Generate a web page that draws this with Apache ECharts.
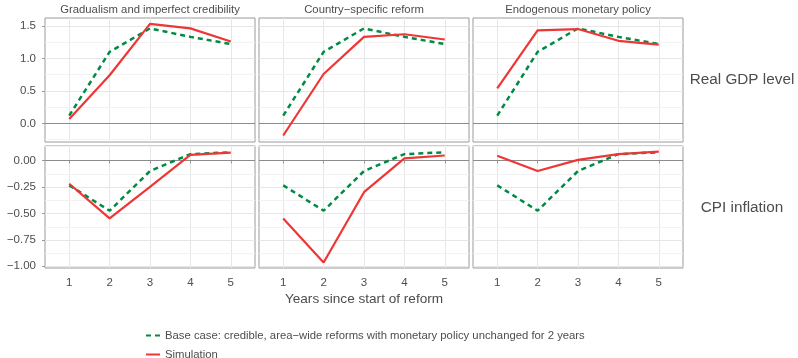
<!DOCTYPE html>
<html>
<head>
<meta charset="utf-8">
<script src="https://cdn.jsdelivr.net/npm/echarts@6/dist/echarts.min.js"></script>
<style>
html,body{margin:0;padding:0;background:#fff;}
#chart{width:798px;height:358px;}
</style>
</head>
<body>
<div id="chart"></div>
<script>
// ---- data ----
const years = [1, 2, 3, 4, 5];
const panelTitles = ["Gradualism and imperfect credibility", "Country\u2212specific reform", "Endogenous monetary policy"];
const rowTitles = ["Real GDP level", "CPI inflation"];
const baseName = "Base case: credible, area\u2212wide reforms with monetary policy unchanged for 2 years";
const simName = "Simulation";

const gdpBase = [0.12, 1.10, 1.46, 1.33, 1.22];
const gdpSimGradualism = [0.07, 0.74, 1.53, 1.46, 1.26];
const gdpSimCountry = [-0.185, 0.76, 1.33, 1.37, 1.29];
const gdpSimEndogenous = [0.54, 1.43, 1.45, 1.27, 1.21];

const cpiBase = [-0.235, -0.475, -0.10, 0.06, 0.078];
const cpiSimGradualism = [-0.22, -0.548, -0.25, 0.053, 0.075];
const cpiSimCountry = [-0.548, -0.965, -0.30, 0.02, 0.047];
const cpiSimEndogenous = [0.044, -0.10, 0.006, 0.06, 0.084];

const gdpTicks = [0, 0.5, 1.0, 1.5];
const gdpMinor = [-0.25, 0.25, 0.75, 1.25];
const cpiTicks = [-1.0, -0.75, -0.5, -0.25, 0];
const cpiMinor = [-0.875, -0.625, -0.375, -0.125, 0.125];

// ---- layout ----
const FONT = "Liberation Sans, Arial, Helvetica, sans-serif";
const colLeft = [45, 259, 473];
const colWidth = 210;
const rowTop = [18, 146];
const rowHeight = [124, 122];
const yRange = [[-0.285, 1.62], [-1.017, 0.137]];
const green = "#008B45";
const red = "#EE3636";

const simRows = [[gdpSimGradualism, gdpSimCountry, gdpSimEndogenous], [cpiSimGradualism, cpiSimCountry, cpiSimEndogenous]];
const baseRows = [gdpBase, cpiBase];
const tickRows = [gdpTicks, cpiTicks];
const minorRows = [gdpMinor, cpiMinor];

const toPts = arr => years.map((y, i) => [y, arr[i]]);
const fmtNum = (v, d) => {
  const s = Math.abs(v).toFixed(d);
  return (v < -1e-9 ? "\u2212" : "") + s;
};

const grids = [], xAxes = [], yAxes = [], series = [], graphics = [];
let idx = 0;
for (let r = 0; r < 2; r++) {
  for (let c = 0; c < 3; c++) {
    grids.push({
      left: colLeft[c], top: rowTop[r], width: colWidth, height: rowHeight[r],
      show: true, borderColor: "#9a9a9a", borderWidth: 1, backgroundColor: "transparent"
    });
    xAxes.push({
      type: "value", gridIndex: idx, min: 0.4, max: 5.6,
      axisLine: { show: false },
      axisTick: { show: r === 1, customValues: years, length: 3, lineStyle: { color: "#9a9a9a" } },
      axisLabel: { show: r === 1, customValues: years, color: "#4d4d4d", fontSize: 11.5, fontFamily: FONT, margin: 9 },
      splitLine: { show: true, lineStyle: { color: "#e6e6e6", width: 1 } }
    });
    const d = r === 0 ? 1 : 2;
    yAxes.push({
      type: "value", gridIndex: idx, min: yRange[r][0], max: yRange[r][1],
      axisLine: { show: false },
      axisTick: { show: c === 0, customValues: tickRows[r], length: 3, lineStyle: { color: "#9a9a9a" } },
      axisLabel: { show: c === 0, customValues: tickRows[r], color: "#4d4d4d", fontSize: 11.5, fontFamily: FONT, margin: 9,
        formatter: v => fmtNum(v, d) },
      splitLine: { show: true, lineStyle: { color: "#e6e6e6", width: 1 } }
    });
    // minor grid + zero line
    series.push({
      type: "line", xAxisIndex: idx, yAxisIndex: idx, data: [], z: 1, silent: true,
      markLine: {
        silent: true, symbol: ["none", "none"], z: 1, animation: false,
        label: { show: false },
        data: minorRows[r].map(v => ({ yAxis: v, lineStyle: { color: "#f2f2f2", width: 1, type: "solid" } }))
          .concat([{ yAxis: 0, lineStyle: { color: "#8c8c8c", width: 1, type: "solid" } }])
      }
    });
    series.push({
      name: baseName, type: "line", xAxisIndex: idx, yAxisIndex: idx, z: 3,
      data: toPts(baseRows[r]), symbol: "none", animation: false,
      lineStyle: { color: green, width: 2.5, type: [5, 4], cap: "butt" },
      itemStyle: { color: green }
    });
    series.push({
      name: simName, type: "line", xAxisIndex: idx, yAxisIndex: idx, z: 4,
      data: toPts(simRows[r][c]), symbol: "none", animation: false,
      lineStyle: { color: red, width: 2.2 },
      itemStyle: { color: red }
    });
    idx++;
  }
}

for (let c = 0; c < 3; c++) {
  graphics.push({
    type: "text", x: colLeft[c] + colWidth / 2, y: 10,
    style: { text: panelTitles[c], fill: "#4d4d4d", font: "11.3px " + FONT, textAlign: "center", textVerticalAlign: "middle" }
  });
}
graphics.push({ type: "text", x: 742, y: 80, style: { text: rowTitles[0], fill: "#4d4d4d", font: "15.3px " + FONT, textAlign: "center", textVerticalAlign: "middle" } });
graphics.push({ type: "text", x: 742, y: 208, style: { text: rowTitles[1], fill: "#4d4d4d", font: "15.3px " + FONT, textAlign: "center", textVerticalAlign: "middle" } });
graphics.push({ type: "text", x: 364, y: 299, style: { text: "Years since start of reform", fill: "#4d4d4d", font: "13.6px " + FONT, textAlign: "center", textVerticalAlign: "middle" } });

const chart = echarts.init(document.getElementById("chart"), null, { renderer: "canvas" });
chart.setOption({
  animation: false,
  backgroundColor: "#ffffff",
  grid: grids,
  xAxis: xAxes,
  yAxis: yAxes,
  series: series,
  graphic: graphics,
  legend: {
    data: [baseName, simName], orient: "vertical", left: 145, top: 330, height: 40, padding: 0,
    itemWidth: 14, itemHeight: 10, itemGap: 8, selectedMode: false,
    itemStyle: { opacity: 0 },
    textStyle: { color: "#4d4d4d", fontSize: 11.3, fontFamily: FONT }
  }
});
</script>
</body>
</html>
